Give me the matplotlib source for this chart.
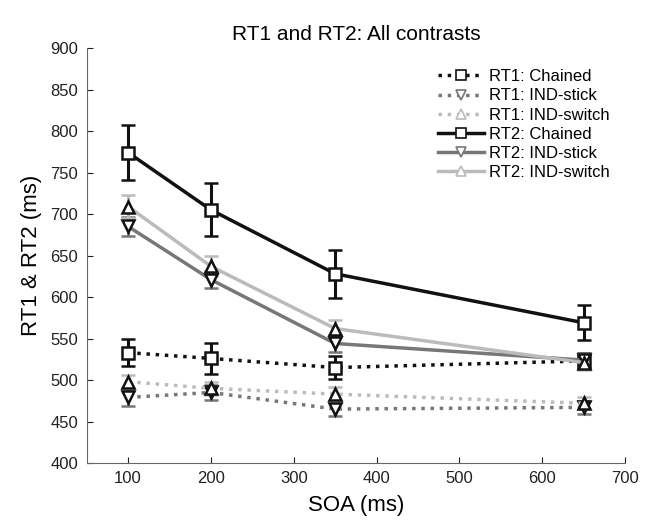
import matplotlib
matplotlib.use("Agg")
import matplotlib.pyplot as plt
from matplotlib.lines import Line2D

plt.rcParams['font.family'] = ['Liberation Sans', 'DejaVu Sans']

soa = [100, 200, 350, 650]

rt1_chained = [533, 526, 515, 523]
rt1_chained_err = [16, 19, 14, 10]
rt1_stick = [479, 485, 465, 467]
rt1_stick_err = [10, 9, 8, 8]
rt1_switch = [498, 490, 483, 472]
rt1_switch_err = [8, 8, 8, 7]

rt2_chained = [774, 705, 628, 569]
rt2_chained_err = [33, 32, 29, 21]
rt2_stick = [685, 621, 544, 524]
rt2_stick_err = [12, 10, 10, 9]
rt2_switch = [709, 637, 562, 521]
rt2_switch_err = [14, 12, 10, 9]

series = [
    ("RT1: Chained", rt1_chained, rt1_chained_err, '#111111', ':', 's'),
    ("RT1: IND-stick", rt1_stick, rt1_stick_err, '#777777', ':', 'v'),
    ("RT1: IND-switch", rt1_switch, rt1_switch_err, '#bbbbbb', ':', '^'),
    ("RT2: Chained", rt2_chained, rt2_chained_err, '#111111', '-', 's'),
    ("RT2: IND-stick", rt2_stick, rt2_stick_err, '#777777', '-', 'v'),
    ("RT2: IND-switch", rt2_switch, rt2_switch_err, '#bbbbbb', '-', '^'),
]

fig = plt.figure(figsize=(6.47, 5.22), dpi=100)
ax = fig.add_axes([0.134, 0.113, 0.832, 0.795])

handles = []
for label, vals, err, color, ls, mk in series:
    ax.errorbar(soa, vals, yerr=err, color=color, linestyle=ls, linewidth=2.5,
                marker=mk, markersize=9, markerfacecolor='white',
                markeredgecolor='#111111', markeredgewidth=1.8,
                elinewidth=2.2, capsize=5, capthick=2.2)
    handles.append(Line2D([], [], color=color, linestyle=ls, linewidth=2.5,
                          marker=mk, markersize=7, markerfacecolor='white',
                          markeredgecolor=color, markeredgewidth=1.2,
                          label=label))

ax.set_xlim(50, 700)
ax.set_ylim(400, 900)
ax.set_xticks([100, 200, 300, 400, 500, 600, 700])
ax.set_yticks(range(400, 901, 50))
ax.tick_params(direction='in', labelsize=12, colors='#222222', length=4, pad=6)
for s in ['top', 'right']:
    ax.spines[s].set_visible(False)
for s in ['left', 'bottom']:
    ax.spines[s].set_color('#666666')

ax.set_title("RT1 and RT2: All contrasts", fontsize=15, pad=6)
ax.set_xlabel("SOA (ms)", fontsize=16, labelpad=6)
ax.set_ylabel("RT1 & RT2 (ms)", fontsize=16, labelpad=6)

ax.legend(handles=handles, loc='upper right', bbox_to_anchor=(1.0, 0.985),
          frameon=False, fontsize=12, handlelength=2.8, labelspacing=0.25,
          handletextpad=0.3)

plt.savefig("out.png", dpi=100)
plt.close()
